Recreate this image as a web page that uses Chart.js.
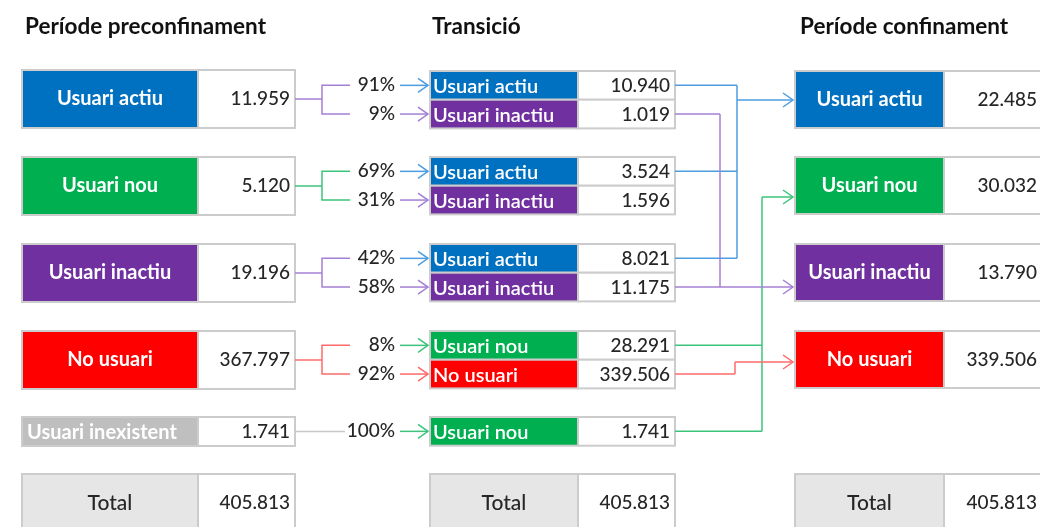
<!DOCTYPE html>
<html lang="ca">
<head>
<meta charset="UTF-8">
<title>Transició d'usuaris</title>
<script src="https://cdn.jsdelivr.net/npm/chart.js"></script>
<style>
  body { margin: 0; background: #fff; }
  #wrap { width: 1040px; height: 527px; }
</style>
</head>
<body>
<div id="wrap"><canvas id="flowChart" width="1040" height="527"></canvas></div>
<script>
// --- data ---
const columnTitles = ['Període preconfinament', 'Transició', 'Període confinament'];
const preStates = ['Usuari actiu', 'Usuari nou', 'Usuari inactiu', 'No usuari', 'Usuari inexistent'];
const preValues = [11959, 5120, 19196, 367797, 1741];
const transSource = [0, 0, 1, 1, 2, 2, 3, 3, 4];
const transStates = ['Usuari actiu', 'Usuari inactiu', 'Usuari actiu', 'Usuari inactiu', 'Usuari actiu', 'Usuari inactiu', 'Usuari nou', 'No usuari', 'Usuari nou'];
const transPct = [91, 9, 69, 31, 42, 58, 8, 92, 100];
const transValues = [10940, 1019, 3524, 1596, 8021, 11175, 28291, 339506, 1741];
const postStates = ['Usuari actiu', 'Usuari nou', 'Usuari inactiu', 'No usuari'];
const postValues = [22485, 30032, 13790, 339506];
const totalLabel = 'Total';
const totals = [405813, 405813, 405813];

// --- look ---
const fillColor = { 'Usuari actiu': '#0070c0', 'Usuari nou': '#00b050', 'Usuari inactiu': '#7030a0', 'No usuari': '#ff0000', 'Usuari inexistent': '#bfbfbf' };
const lineColor = { 'Usuari actiu': '#4d9de0', 'Usuari nou': '#3cc47c', 'Usuari inactiu': '#a47fd4', 'No usuari': '#ff6b6b' };
const bracketColor = ['#a47fd4', '#3cc47c', '#a47fd4', '#ff6b6b', '#c8c8c8'];
const hiddenLinks = [3]; // 1.596 has no outgoing line in the original

const left = { x0: 22, xs: 198, x1: 295, tops: [70, 157, 244, 331, 417], hs: [58, 58, 58, 58, 29] };
const mid = { x0: 430, xs: 578, x1: 675, tops: [71, 157, 244, 331, 417], rowH: 28.7 };
const right = { x0: 795, xs: 944, x1: 1050, tops: [71, 157, 244, 331], h: 57 };
const totalTop = 474, totalH = 60;
const routes = {
  'Usuari actiu': { x: 737, y: 100 },
  'Usuari nou': { x: 762, y: 197 },
  'Usuari inactiu': { x: 720, y: 287 },
  'No usuari': { x: 735, y: 362 }
};

const fmt = v => String(v).replace(/\B(?=(\d{3})+(?!\d))/g, '.');

const flowPlugin = {
  id: 'flow',
  afterDraw(chart) {
    const ctx = chart.ctx;
    const sx = v => chart.scales.x.getPixelForValue(v);
    const sy = v => chart.scales.y.getPixelForValue(v);

    function text(str, x, y, align, font, color) {
      ctx.font = font;
      ctx.fillStyle = color;
      ctx.textAlign = align;
      ctx.textBaseline = 'middle';
      ctx.fillText(str, sx(x), sy(y));
    }
    function rect(x0, y0, x1, y1, fill) {
      ctx.fillStyle = fill;
      ctx.fillRect(sx(x0), sy(y0), sx(x1) - sx(x0), sy(y1) - sy(y0));
      ctx.strokeStyle = '#cccccc';
      ctx.lineWidth = 2;
      ctx.strokeRect(sx(x0), sy(y0), sx(x1) - sx(x0), sy(y1) - sy(y0));
    }
    function path(pts, color) {
      ctx.beginPath();
      pts.forEach((p, i) => i ? ctx.lineTo(sx(p[0]), sy(p[1])) : ctx.moveTo(sx(p[0]), sy(p[1])));
      ctx.strokeStyle = color;
      ctx.lineWidth = 1.5;
      ctx.stroke();
    }
    function arrow(x0, x1, y, color) {
      path([[x0, y], [x1, y]], color);
      path([[x1 - 10, y - 7], [x1, y], [x1 - 10, y + 7]], color);
    }
    const nameFont = 'bold 20px Lato', numFont = '500 19px Lato', midFont = '600 20px Lato', pctFont = '500 19px Lato';
    const numColor = '#262626';

    ctx.save();
    // titles
    text(columnTitles[0], 25, 27, 'left', 'bold 22.5px Lato', '#111');
    text(columnTitles[1], 432, 27, 'left', 'bold 22.5px Lato', '#111');
    text(columnTitles[2], 800, 27, 'left', 'bold 22.5px Lato', '#111');

    // left column + brackets
    preStates.forEach((s, i) => {
      const t = left.tops[i], b = t + left.hs[i], cy = (t + b) / 2;
      rect(left.x0, t, left.xs, b, fillColor[s]);
      rect(left.xs, t, left.x1, b, '#fff');
      if (s === 'Usuari inexistent') text(s, left.x0 + 5, cy + 1, 'left', nameFont, '#fff');
      else text(s, (left.x0 + left.xs) / 2, cy, 'center', nameFont, '#fff');
      text(fmt(preValues[i]), left.x1 - 5, cy, 'right', numFont, numColor);

      const rows = transSource.map((src, r) => src === i ? r : -1).filter(r => r >= 0);
      const rowY = rows.map(r => mid.tops[i] + (r - rows[0] + 0.5) * mid.rowH);
      if (rows.length > 1) {
        path([[left.x1, cy], [322, cy]], bracketColor[i]);
        path([[350, rowY[0]], [322, rowY[0]], [322, rowY[rowY.length - 1]], [350, rowY[rowY.length - 1]]], bracketColor[i]);
      } else {
        path([[left.x1, cy], [345, cy]], bracketColor[i]);
      }
    });

    // middle column
    const midY = [];
    transStates.forEach((s, r) => {
      const g = transSource[r];
      const first = transSource.indexOf(g);
      const t = mid.tops[g] + (r - first) * mid.rowH, b = t + mid.rowH, cy = (t + b) / 2;
      midY.push(cy);
      text(transPct[r] + '%', 395, cy, 'right', pctFont, numColor);
      arrow(400, mid.x0 - 2, cy, lineColor[s]);
      rect(mid.x0, t, mid.xs, b, fillColor[s]);
      rect(mid.xs, t, mid.x1, b, '#fff');
      text(s, mid.x0 + 3, cy + 1, 'left', midFont, '#fff');
      text(fmt(transValues[r]), mid.x1 - 5, cy + 1, 'right', pctFont, numColor);
    });

    // links to right column
    postStates.forEach(s => {
      const rt = routes[s];
      const rows = transStates.map((st, r) => st === s && !hiddenLinks.includes(r) ? r : -1).filter(r => r >= 0);
      const ys = rows.map(r => midY[r]);
      rows.forEach(r => path([[mid.x1, midY[r]], [rt.x, midY[r]]], lineColor[s]));
      const all = ys.concat([rt.y]);
      path([[rt.x, Math.min(...all)], [rt.x, Math.max(...all)]], lineColor[s]);
      arrow(rt.x, right.x0 - 2, rt.y, lineColor[s]);
    });

    // right column
    postStates.forEach((s, i) => {
      const t = right.tops[i], b = t + right.h, cy = (t + b) / 2;
      rect(right.x0, t, right.xs, b, fillColor[s]);
      rect(right.xs, t, right.x1, b, '#fff');
      text(s, (right.x0 + right.xs) / 2, cy, 'center', nameFont, '#fff');
      text(fmt(postValues[i]), 1037, cy, 'right', numFont, numColor);
    });

    // totals
    [left, mid, right].forEach((col, k) => {
      rect(col.x0, totalTop, col.xs, totalTop + totalH, '#e6e6e6');
      rect(col.xs, totalTop, col.x1, totalTop + totalH, '#fff');
      text(totalLabel, (col.x0 + col.xs) / 2, totalTop + 29, 'center', '500 21px Lato', numColor);
      text(fmt(totals[k]), k === 2 ? 1037 : col.x1 - 5, totalTop + 29, 'right', numFont, numColor);
    });
    ctx.restore();
  }
};

new Chart(document.getElementById('flowChart'), {
  type: 'scatter',
  data: { datasets: [{ data: [] }] },
  options: {
    responsive: false,
    animation: false,
    devicePixelRatio: 1,
    layout: { padding: 0 },
    plugins: { legend: { display: false }, tooltip: { enabled: false } },
    scales: {
      x: { type: 'linear', min: 0, max: 1040, display: false },
      y: { type: 'linear', min: 0, max: 527, reverse: true, display: false }
    }
  },
  plugins: [flowPlugin]
});
</script>
</body>
</html>
